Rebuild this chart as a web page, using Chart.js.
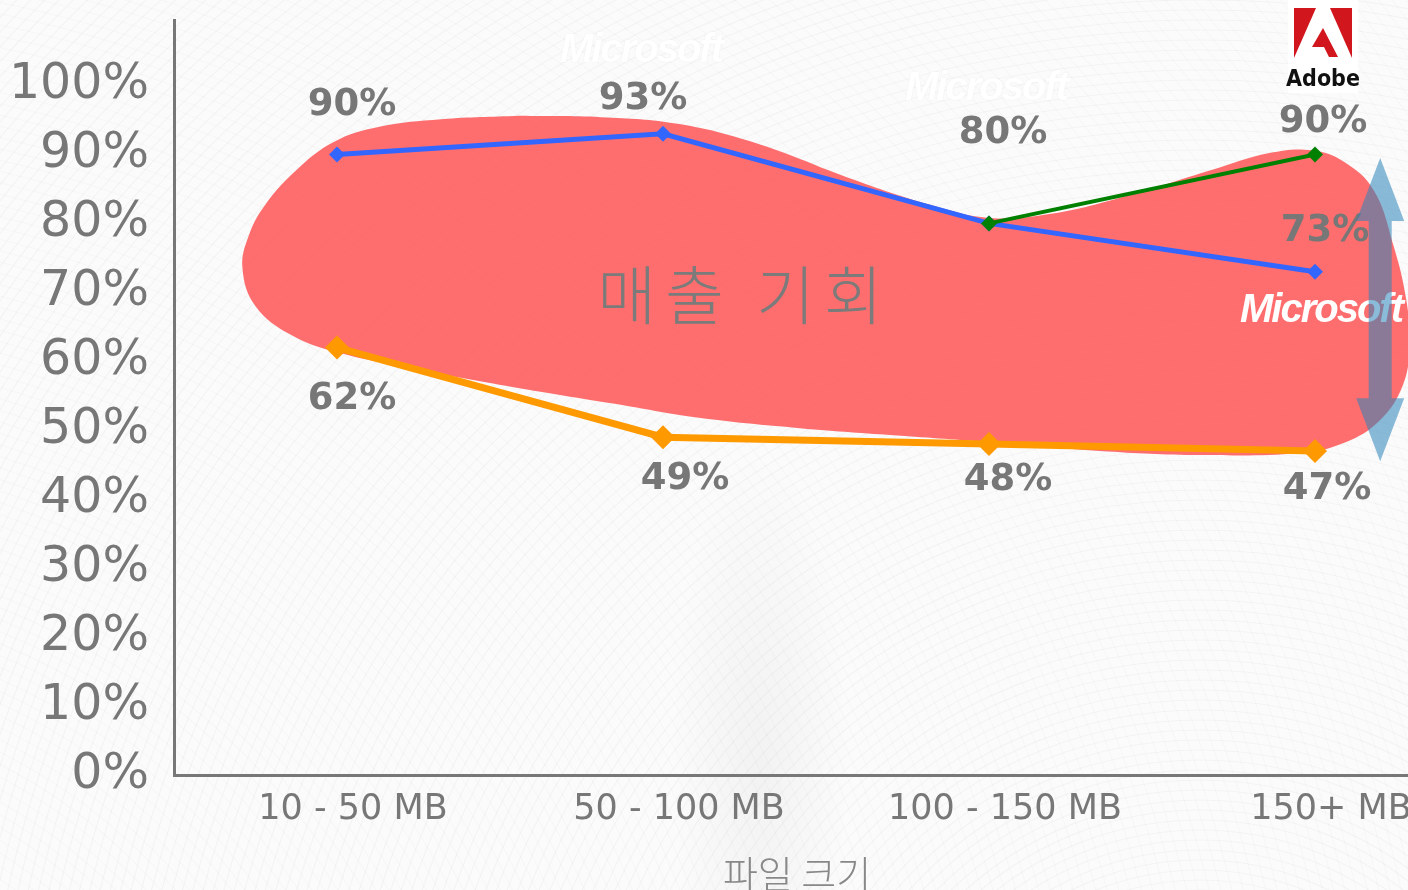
<!DOCTYPE html>
<html lang="ko">
<head>
<meta charset="utf-8">
<title>파일 크기별 매출 기회</title>
<script src="https://cdn.jsdelivr.net/npm/chart.js@4.4.1/dist/chart.umd.min.js"></script>
<style>
  html, body { margin: 0; padding: 0; overflow: hidden; background: #fbfbfb; }
  #wrap { width: 1408px; height: 890px; overflow: hidden; }
  canvas { display: block; }
</style>
</head>
<body>
<div id="wrap"><canvas id="chartCanvas" width="1490" height="890"></canvas></div>
<script>
// --- data ---
const sizeBuckets = ["10 - 50 MB", "50 - 100 MB", "100 - 150 MB", "150+ MB"];
const yTickValues = [0, 10, 20, 30, 40, 50, 60, 70, 80, 90, 100];

// share per file-size bucket, in %
const blueValues = [90, 93, 80, 73];
const orangeValues = [62, 49, 48, 47];
const greenValues = [null, null, 80, 90];

// outline of the "매출 기회" region: bucket position / %, loop starts and ends at the top
const regionX = [0.56, 0.81, 1.05, 1.30, 1.57, 1.82, 2.00, 2.19, 2.43, 2.68, 2.86, 2.99, 3.09, 3.18, 3.24,
  3.28, 3.29, 3.27, 3.20, 3.09, 2.95, 2.65, 2.34, 2.03, 1.73, 1.42, 1.11, 0.87, 0.56, 0.26, 0.00, -0.14,
  -0.25, -0.29, -0.27, -0.22, -0.13, -0.01, 0.13, 0.32, 0.56];
const regionY = [95.6, 95.4, 94.4, 91.4, 86.6, 82.7, 80.8, 81.4, 84.1, 87.7, 90.2, 90.6, 88.9, 84.8, 76.9,
  68.9, 62.4, 56.6, 51.5, 48.2, 46.7, 46.4, 47.0, 48.2, 49.2, 50.3, 51.8, 53.7, 56.1, 58.7, 61.3, 63.8,
  68.0, 73.5, 78.3, 82.7, 87.5, 91.8, 94.0, 95.1, 95.6];

const toPoints = vals => vals.map((v, i) => (v === null ? null : { x: i, y: v })).filter(p => p);

const GREY = "#777";
const SANS = '"DejaVu Sans", Verdana, sans-serif';
const KR = '"Noto Sans CJK KR", sans-serif';

// --- plugins ---
const backdrop = {
  id: "backdrop",
  beforeDraw(chart) {
    const ctx = chart.ctx;
    ctx.save();
    ctx.fillStyle = "#fbfbfb";
    ctx.fillRect(0, 0, chart.width, chart.height);
    ctx.lineWidth = 1.2;
    ctx.strokeStyle = "rgba(0,0,0,0.03)";
    for (let r = 40; r < 2300; r += 10) {
      ctx.beginPath(); ctx.arc(1200, 1150, r, 0, Math.PI * 2); ctx.stroke();
    }
    ctx.strokeStyle = "rgba(0,0,0,0.018)";
    for (let r = 40; r < 2300; r += 11) {
      ctx.beginPath(); ctx.arc(-250, 1250, r, 0, Math.PI * 2); ctx.stroke();
    }
    // soft grey fold in the lower middle
    ctx.translate(760, 760);
    ctx.scale(1, 3.5);
    const fold = ctx.createRadialGradient(0, 0, 0, 0, 0, 90);
    fold.addColorStop(0, "rgba(0,0,0,0.035)");
    fold.addColorStop(1, "rgba(0,0,0,0)");
    ctx.fillStyle = fold;
    ctx.fillRect(-90, -90, 180, 180);
    ctx.restore();
  }
};

const pointLabels = {
  id: "pointLabels",
  afterDatasetsDraw(chart) {
    const { ctx, scales: { x, y } } = chart;
    ctx.save();
    // region caption
    ctx.font = "300 64px " + KR;
    ctx.letterSpacing = "9px";
    ctx.fillStyle = "#7b7b7b";
    ctx.textAlign = "center";
    ctx.textBaseline = "middle";
    ctx.fillText("매출 기회", x.getPixelForValue(1.25), y.getPixelForValue(69.6));
    ctx.letterSpacing = "0px";

    ctx.font = "bold 37px " + SANS;
    ctx.fillStyle = GREY;
    chart.data.datasets.forEach((ds, di) => {
      if (!ds.labelPlacement) return;
      const meta = chart.getDatasetMeta(di);
      meta.data.forEach((pt, i) => {
        const place = ds.labelPlacement[i];
        if (!place) return;
        ctx.fillText(ds.data[i].y + "%", pt.x + place[0], pt.y + place[1]);
      });
    });
    ctx.restore();
  }
};

const decorations = {
  id: "decorations",
  afterDraw(chart) {
    const { ctx, scales: { x, y } } = chart;
    ctx.save();

    // faint logos in the background
    ctx.font = "italic bold 40px Liberation Sans, Arial, sans-serif";
    ctx.letterSpacing = "-2px";
    ctx.textBaseline = "alphabetic";
    ctx.textAlign = "left";
    ctx.fillStyle = "#ffffff";
    ctx.shadowColor = "rgba(0,0,0,0.06)";
    ctx.shadowBlur = 2;
    ctx.fillText("Microsoft", 560, 62);
    ctx.fillText("Microsoft", 905, 100);
    ctx.shadowColor = "transparent";
    ctx.shadowBlur = 0;

    // Microsoft mark on the region
    ctx.fillText("Microsoft", 1240, 322);
    ctx.letterSpacing = "0px";

    // Adobe mark
    ctx.fillStyle = "#ffffff";
    ctx.fillRect(1288, 0, 70, 93);
    ctx.fillStyle = "#d2161e";
    const poly = pts => {
      ctx.beginPath();
      pts.forEach(([px, py], i) => (i ? ctx.lineTo(px, py) : ctx.moveTo(px, py)));
      ctx.closePath();
      ctx.fill();
    };
    poly([[1294, 8], [1316, 8], [1294, 58]]);
    poly([[1330, 8], [1352, 8], [1352, 58]]);
    poly([[1323, 28], [1338, 57], [1329, 57], [1324, 47], [1312, 47]]);
    ctx.fillStyle = "#111";
    ctx.font = 'bold 23px "Liberation Sans Narrow", "DejaVu Sans Condensed", sans-serif';
    ctx.textAlign = "center";
    ctx.fillText("Adobe", 1323, 86);

    // double arrow spanning the range
    const cx = x.getPixelForValue(3.2);
    const top = y.getPixelForValue(89.5);
    const bot = y.getPixelForValue(45.5);
    const head = 63, hw = 24, sw = 11.5;
    ctx.fillStyle = "rgba(41,132,186,0.55)";
    poly([
      [cx, top], [cx + hw, top + head], [cx + sw, top + head], [cx + sw, bot - head],
      [cx + hw, bot - head], [cx, bot], [cx - hw, bot - head], [cx - sw, bot - head],
      [cx - sw, top + head], [cx - hw, top + head]
    ]);

    // x axis title
    ctx.fillStyle = "#888";
    ctx.font = "300 38px " + KR;
    ctx.textAlign = "center";
    ctx.textBaseline = "middle";
    ctx.fillText("파일 크기", (x.left + 1420) / 2, 874);
    ctx.restore();
  }
};

// --- chart ---
const lineSet = (label, vals, color, width, radius, placement, order) => ({
  label,
  data: toPoints(vals),
  borderColor: color,
  backgroundColor: color,
  borderWidth: width,
  pointStyle: "rectRot",
  pointRadius: radius,
  pointBorderWidth: 0,
  pointBackgroundColor: color,
  tension: 0,
  fill: false,
  order,
  labelPlacement: placement
});

const noPadding = s => { s.paddingTop = 0; s.paddingBottom = 0; s.paddingLeft = 0; s.paddingRight = 0; };

new Chart(document.getElementById("chartCanvas"), {
  type: "line",
  data: {
    datasets: [
      lineSet("green", greenValues, "#008000", 4, 8, [null, [8, -32]], 0),
      lineSet("blue", blueValues, "#3366ff", 5, 8, [[15, -49], [-20, -34], [14, -90], [10, -40]], 1),
      lineSet("orange", orangeValues, "#ff9900", 7, 12, [[15, 52], [22, 42], [19, 36], [12, 38]], 2),
      {
        label: "region",
        data: regionX.map((v, i) => ({ x: v, y: regionY[i] })),
        borderWidth: 0,
        borderColor: "rgba(0,0,0,0)",
        backgroundColor: "rgba(255,90,90,0.88)",
        pointRadius: 0,
        tension: 0.4,
        fill: "shape",
        order: 10
      }
    ]
  },
  options: {
    responsive: false,
    animation: false,
    layout: { padding: { top: 20, right: 12, bottom: 0, left: 0 } },
    plugins: {
      legend: { display: false },
      tooltip: { enabled: false }
    },
    scales: {
      x: {
        type: "linear",
        min: -0.5,
        max: 3.5,
        grid: { display: false, drawTicks: false },
        border: { display: true, color: GREY, width: 3 },
        afterBuildTicks: s => { s.ticks = sizeBuckets.map((_, i) => ({ value: i })); },
        afterFit: s => { s.height = 115; noPadding(s); },
        ticks: {
          autoSkip: false,
          maxRotation: 0,
          padding: 14,
          labelOffset: 16,
          color: GREY,
          font: { family: SANS, size: 35 },
          callback: v => sizeBuckets[v]
        }
      },
      y: {
        min: 0,
        max: 109.5,
        grid: { display: false, drawTicks: false },
        border: { display: true, color: GREY, width: 3 },
        afterBuildTicks: s => { s.ticks = yTickValues.map(v => ({ value: v })); },
        afterFit: s => { s.width = 174; noPadding(s); },
        ticks: {
          padding: 25,
          color: GREY,
          font: { family: SANS, size: 49 },
          callback: v => v + "%"
        }
      }
    }
  },
  plugins: [backdrop, pointLabels, decorations]
});
</script>
</body>
</html>
